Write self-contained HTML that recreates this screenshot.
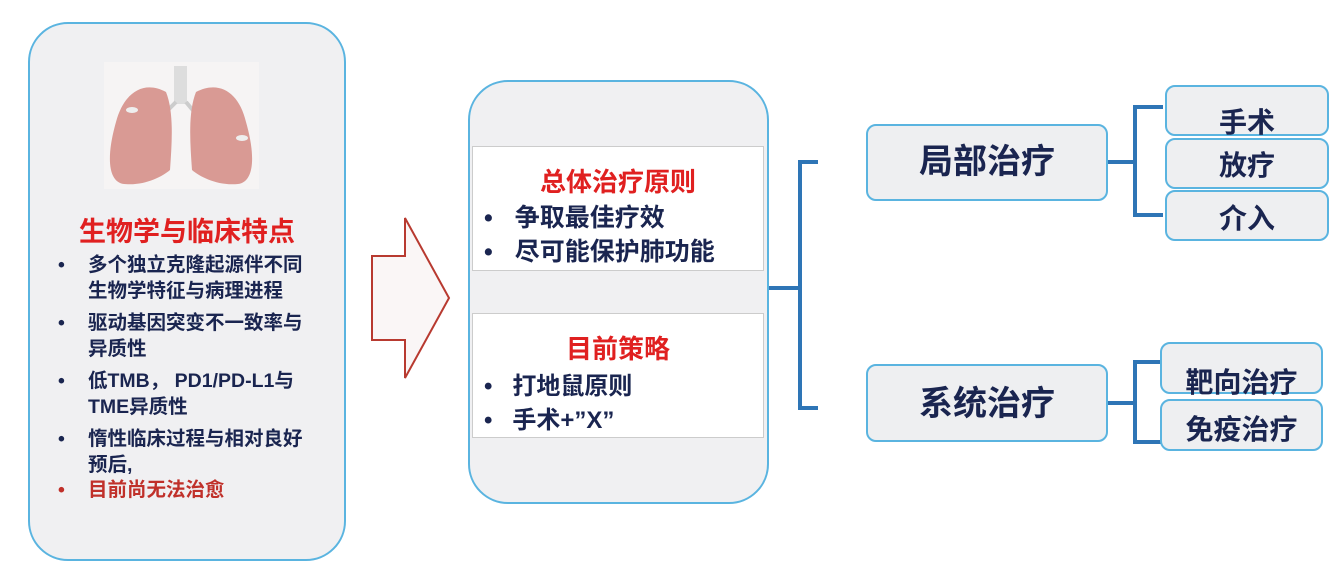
<!DOCTYPE html>
<html><head><meta charset="utf-8"><style>
body{margin:0;width:1342px;height:578px;background:#fff;position:relative;overflow:hidden;font-family:"Liberation Sans","Noto Sans CJK SC",sans-serif;font-weight:bold}
.a{position:absolute}
.panel{position:absolute;border:2px solid #5ab4e0;background:#f0f0f2;box-sizing:border-box}
.t{position:absolute;white-space:nowrap;color:#1a2550}
.box{position:absolute;border:2px solid #5ab4e0;background:#eeeff1;border-radius:10px;box-sizing:border-box;text-align:center;color:#1a2550;white-space:nowrap}
</style></head><body>
<div class="panel" style="left:28px;top:22px;width:318px;height:539px;border-radius:40px"></div>
<svg class="a" style="left:104px;top:62px" width="155" height="127" viewBox="0 0 155 127">
<rect width="155" height="127" fill="#f6f4f4"/>
<rect x="70" y="4" width="13" height="38" fill="#ddd"/>
<path d="M72 40 L60 52 M82 40 L92 52" stroke="#ccc" stroke-width="4" fill="none"/>
<path d="M62 30 C40 18 20 30 12 60 C2 95 4 120 20 122 C40 124 58 115 66 108 C68 80 70 50 62 30Z" fill="#d99a94"/>
<path d="M92 30 C115 18 135 30 142 60 C152 95 150 120 134 122 C114 124 96 115 88 108 C86 80 84 50 92 30Z" fill="#d99a94"/>
<ellipse cx="28" cy="48" rx="6" ry="3" fill="#eee"/><ellipse cx="138" cy="76" rx="6" ry="3" fill="#eee"/>
</svg>
<div class="t" style="left:28px;width:318px;text-align:center;top:210px;font-size:27px;color:#e02020">生物学与临床特点</div>
<div class="a" style="left:58px;top:253px;font-size:19.5px;line-height:25.5px;color:#1a2550;white-space:nowrap">
<div style="position:relative;padding-left:30px"><span style="position:absolute;left:0">•</span>多个独立克隆起源伴不同<br>生物学特征与病理进程</div>
<div style="position:relative;padding-left:30px;margin-top:7px"><span style="position:absolute;left:0">•</span>驱动基因突变不一致率与<br>异质性</div>
<div style="position:relative;padding-left:30px;margin-top:7px"><span style="position:absolute;left:0">•</span>低TMB， PD1/PD-L1与<br>TME异质性</div>
<div style="position:relative;padding-left:30px;margin-top:7px"><span style="position:absolute;left:0">•</span>惰性临床过程与相对良好<br>预后,</div>
<div style="position:relative;padding-left:30px;color:#c0302a"><span style="position:absolute;left:0">•</span>目前尚无法治愈</div>
</div>
<svg class="a" style="left:0;top:0" width="1342" height="578">
<path d="M372 256 H405 V218 L449 298 L405 378 V340 H372 Z" fill="#faf6f6" stroke="#b83a30" stroke-width="2"/>
<g stroke="#2e75b6" stroke-width="4" fill="none">
<path d="M768 288 H800 M818 162 H800 V408 H818"/>
<path d="M1053 162 H1135 M1163 107 H1135 V215 H1163"/>
<path d="M1053 403 H1135 M1163 362 H1135 V442 H1163"/>
</g>
</svg>
<div class="panel" style="left:468px;top:80px;width:301px;height:424px;border-radius:40px"></div>
<div class="a" style="left:472px;top:146px;width:292px;height:125px;background:#fff;border:1px solid #ccc;box-sizing:border-box"></div>
<div class="a" style="left:472px;top:313px;width:292px;height:125px;background:#fff;border:1px solid #ccc;box-sizing:border-box"></div>
<div class="t" style="left:472px;width:292px;text-align:center;top:162px;font-size:26px;color:#e02020">总体治疗原则</div>
<div class="t" style="left:484px;top:198px;font-size:25px">•<span style="margin-left:22px">争取最佳疗效</span></div>
<div class="t" style="left:484px;top:232px;font-size:25px">•<span style="margin-left:22px">尽可能保护肺功能</span></div>
<div class="t" style="left:472px;width:292px;text-align:center;top:329px;font-size:26px;color:#e02020">目前策略</div>
<div class="t" style="left:484px;top:366px;font-size:24px">•<span style="margin-left:20px">打地鼠原则</span></div>
<div class="t" style="left:484px;top:400px;font-size:24px">•<span style="margin-left:20px">手术+”X”</span></div>
<div class="box" style="left:866px;top:124px;width:242px;height:77px;line-height:73px;font-size:34px">局部治疗</div>
<div class="box" style="left:866px;top:364px;width:242px;height:78px;line-height:76px;font-size:34px">系统治疗</div>
<div class="box" style="left:1165px;top:85px;width:164px;height:51px;line-height:72px;font-size:28px">手术</div>
<div class="box" style="left:1165px;top:138px;width:164px;height:51px;line-height:52px;font-size:28px">放疗</div>
<div class="box" style="left:1165px;top:190px;width:164px;height:51px;line-height:54px;font-size:28px">介入</div>
<div class="box" style="left:1160px;top:342px;width:163px;height:52px;line-height:78px;font-size:28px;overflow:visible">靶向治疗</div>
<div class="box" style="left:1160px;top:399px;width:163px;height:52px;line-height:58px;font-size:28px">免疫治疗</div>
</body></html>
